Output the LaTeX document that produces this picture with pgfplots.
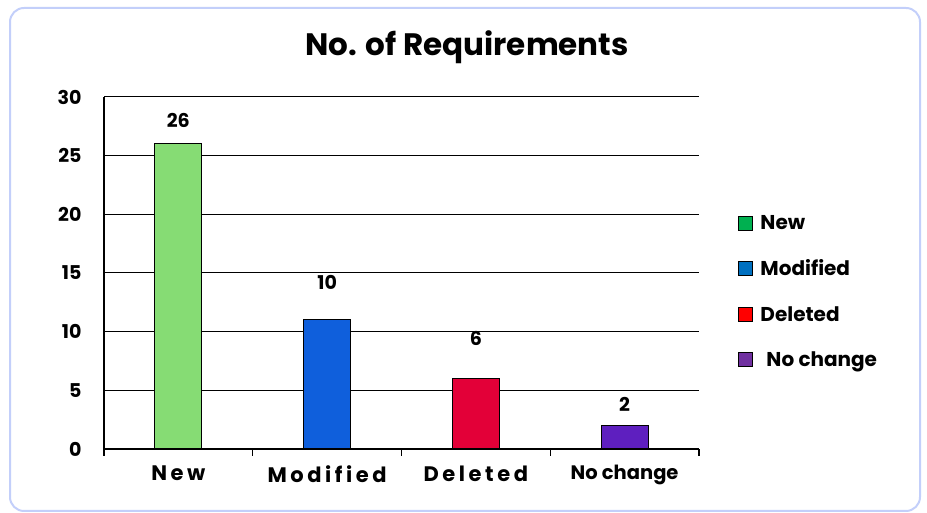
\documentclass[border=0pt]{standalone}
\usepackage{pgfplots}
\pgfplotsset{compat=1.18}
\usepackage{fontspec}
\setmainfont{Poppins}
\definecolor{bNew}{HTML}{86DC74}
\definecolor{bMod}{HTML}{0F5FDC}
\definecolor{bDel}{HTML}{E30038}
\definecolor{bNo}{HTML}{5E1FBF}
\definecolor{lNew}{HTML}{00B050}
\definecolor{lMod}{HTML}{0070C0}
\definecolor{lDel}{HTML}{FF0000}
\definecolor{lNo}{HTML}{7030A0}
\definecolor{framec}{HTML}{C3CFFA}
\newcommand{\lblfont}{\bfseries\fontsize{19}{22}\selectfont}
\newcommand{\xlfont}{\bfseries\fontsize{21}{24}\selectfont}
\newcommand{\lgfont}{\bfseries\fontsize{20}{23}\selectfont}
\begin{document}
\begin{tikzpicture}[x=1pt,y=1pt]
\useasboundingbox (0,0) rectangle (927,513);
\draw[framec, line width=2pt, rounded corners=14pt] (10,2) rectangle (920,505);
\node[font=\bfseries\fontsize{31}{34}\selectfont] at (467,466) {No. of Requirements};
\begin{axis}[at={(104pt,64pt)}, anchor=south west, scale only axis,
  width=595pt, height=352pt,
  xmin=-0.5, xmax=3.5, ymin=0, ymax=30,
  ytick={0,5,...,30}, ymajorgrids,
  grid style={black, line width=1pt},
  axis line style={black, line width=1.2pt},
  tick style={black, line width=1.2pt},
  ytick style={draw=none},
  tick align=outside, major tick length=7pt,
  xtick={-0.5,0.5,1.5,2.5,3.5}, xticklabels={},
  extra x ticks={0,1,2,3},
  extra x tick labels={{\xlfont\addfontfeature{LetterSpace=17}New},{\xlfont\addfontfeature{LetterSpace=17}Modified},{\xlfont\addfontfeature{LetterSpace=17}Deleted},{\bfseries\fontsize{19.5}{22}\selectfont No change}},
  extra x tick style={major tick length=0pt, grid=none, xticklabel style={yshift=-13pt}},
  yticklabel style={xshift=-12pt},
  ticklabel style={font=\lblfont},
  /pgf/number format/assume math mode=true,
  axis x line*=bottom, axis y line*=left,
  legend style={at={(1.061,0.447)}, anchor=west, draw=none, fill=none,
    font=\lgfont, row sep=25pt, cells={anchor=west}},
  legend image code/.code={\draw[#1] (0pt,-7pt) rectangle (14pt,7pt);},
]
\addplot[ybar, bar width=47pt, bar shift=0pt, fill=bNew, draw=black, line width=1pt, forget plot] coordinates {(0,26)};
\addplot[ybar, bar width=47pt, bar shift=0pt, fill=bMod, draw=black, line width=1pt, forget plot] coordinates {(1,11)};
\addplot[ybar, bar width=47pt, bar shift=0pt, fill=bDel, draw=black, line width=1pt, forget plot] coordinates {(2,6)};
\addplot[ybar, bar width=47pt, bar shift=0pt, fill=bNo, draw=black, line width=1pt, forget plot] coordinates {(3,2)};
\addplot[draw=none, mark=none, nodes near coords, point meta=explicit symbolic,
  nodes near coords style={anchor=center, font=\lblfont}, forget plot]
  coordinates {(0,28.04)[26] (1,14.23)[10] (2,9.38)[6] (3,3.84)[2]};
\addlegendimage{fill=lNew, draw=black, line width=1pt}
\addlegendentry{\hspace{5pt}New}
\addlegendimage{fill=lMod, draw=black, line width=1pt}
\addlegendentry{\hspace{5pt}Modified}
\addlegendimage{fill=lDel, draw=black, line width=1pt}
\addlegendentry{\hspace{5pt}Deleted}
\addlegendimage{fill=lNo, draw=black, line width=1pt}
\addlegendentry{\hspace{11pt}No change}
\end{axis}
\end{tikzpicture}
\end{document}
